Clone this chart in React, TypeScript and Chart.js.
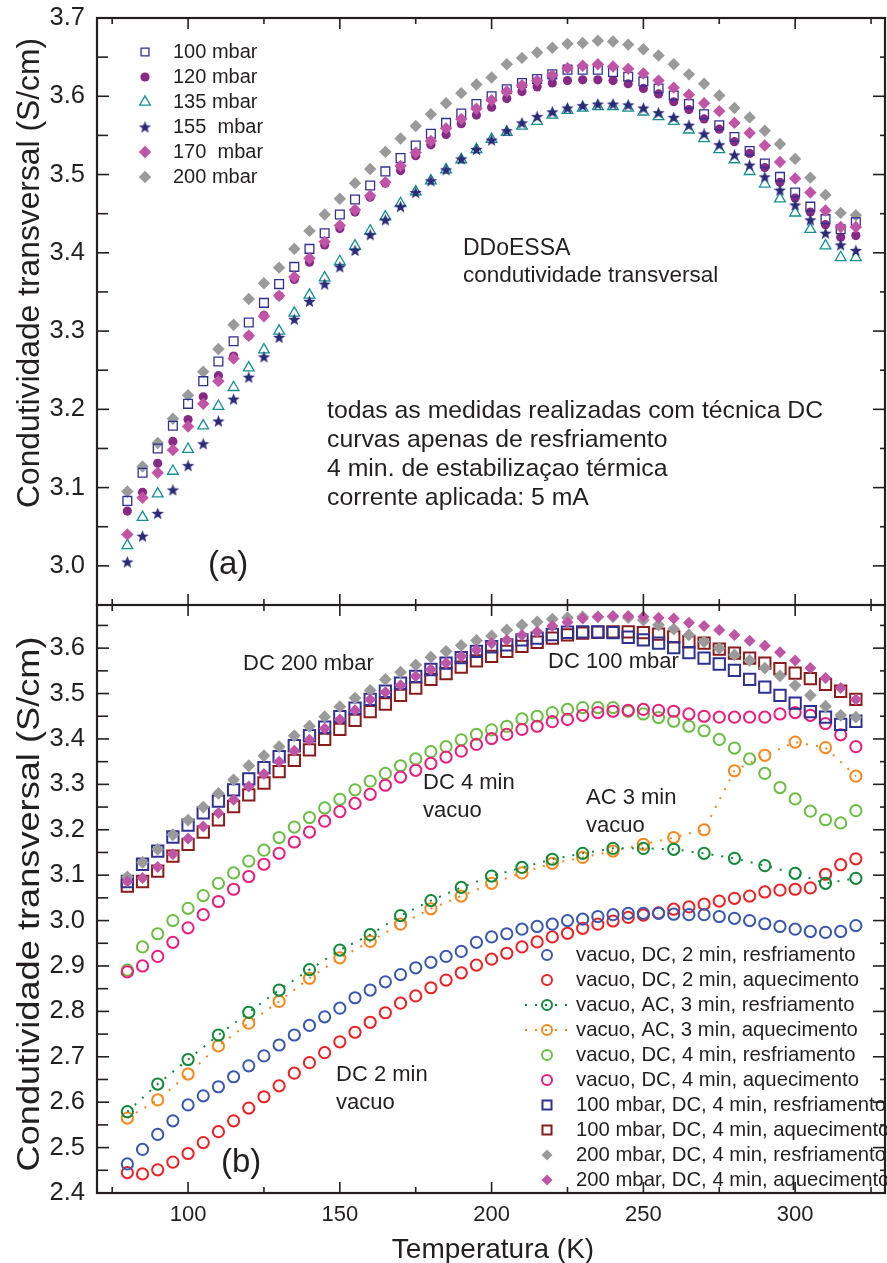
import React, { useEffect, useRef } from 'react';
import { Chart, registerables } from 'chart.js';
import { drawPoint } from 'chart.js/helpers';

Chart.register(...registerables);

// ---------------- data ----------------
const TEMP_5K = [80, 85, 90, 95, 100, 105, 110, 115, 120, 125, 130, 135, 140, 145, 150, 155, 160, 165, 170, 175,
  180, 185, 190, 195, 200, 205, 210, 215, 220, 225, 230, 235, 240, 245, 250, 255, 260, 265, 270, 275,
  280, 285, 290, 295, 300, 305, 310, 315, 320];
const TEMP_10K = [80, 90, 100, 110, 120, 130, 140, 150, 160, 170, 180, 190, 200, 210, 220, 230, 240, 250, 260, 270,
  280, 290, 300, 310, 320];

// panel (a)
const A_100 = [3.083, 3.119, 3.150, 3.179, 3.207, 3.236, 3.261, 3.287, 3.311, 3.336, 3.360, 3.382, 3.405, 3.425, 3.449, 3.468, 3.486, 3.504, 3.521, 3.537,
  3.552, 3.566, 3.578, 3.590, 3.600, 3.609, 3.617, 3.622, 3.628, 3.634, 3.634, 3.634, 3.631, 3.625, 3.619, 3.610, 3.601, 3.590, 3.577, 3.563,
  3.548, 3.530, 3.514, 3.497, 3.477, 3.459, 3.443, 3.430, 3.439];
const A_120 = [3.070, 3.094, 3.131, 3.159, 3.187, 3.216, 3.243, 3.268, 3.294, 3.320, 3.345, 3.366, 3.388, 3.410, 3.431, 3.452, 3.471, 3.489, 3.505, 3.524,
  3.538, 3.551, 3.565, 3.576, 3.586, 3.597, 3.606, 3.612, 3.617, 3.620, 3.621, 3.621, 3.620, 3.616, 3.610, 3.603, 3.593, 3.583, 3.571, 3.558,
  3.542, 3.527, 3.509, 3.490, 3.470, 3.452, 3.436, 3.420, 3.422];
const A_135 = [3.026, 3.062, 3.092, 3.121, 3.149, 3.179, 3.204, 3.228, 3.253, 3.276, 3.300, 3.323, 3.346, 3.368, 3.389, 3.409, 3.428, 3.446, 3.463, 3.478,
  3.492, 3.506, 3.519, 3.532, 3.545, 3.554, 3.562, 3.568, 3.576, 3.582, 3.585, 3.587, 3.587, 3.585, 3.580, 3.574, 3.568, 3.557, 3.546, 3.532,
  3.519, 3.504, 3.488, 3.469, 3.451, 3.430, 3.409, 3.394, 3.394];
const A_155 = [3.005, 3.038, 3.067, 3.097, 3.128, 3.156, 3.185, 3.213, 3.241, 3.267, 3.292, 3.315, 3.338, 3.360, 3.382, 3.403, 3.423, 3.442, 3.459, 3.477,
  3.492, 3.506, 3.520, 3.532, 3.544, 3.556, 3.566, 3.574, 3.580, 3.585, 3.588, 3.590, 3.590, 3.589, 3.585, 3.579, 3.573, 3.563, 3.552, 3.538,
  3.525, 3.512, 3.497, 3.480, 3.461, 3.442, 3.425, 3.410, 3.403];
const A_170 = [3.040, 3.087, 3.119, 3.148, 3.178, 3.207, 3.236, 3.265, 3.294, 3.319, 3.345, 3.369, 3.393, 3.414, 3.435, 3.455, 3.473, 3.490, 3.511, 3.528,
  3.543, 3.559, 3.571, 3.584, 3.595, 3.606, 3.614, 3.620, 3.627, 3.636, 3.639, 3.641, 3.638, 3.635, 3.629, 3.620, 3.611, 3.602, 3.591, 3.581,
  3.566, 3.553, 3.537, 3.516, 3.495, 3.477, 3.454, 3.433, 3.433];
const A_200 = [3.095, 3.127, 3.157, 3.188, 3.218, 3.248, 3.277, 3.308, 3.341, 3.361, 3.381, 3.405, 3.428, 3.449, 3.469, 3.489, 3.507, 3.529, 3.546, 3.562,
  3.577, 3.591, 3.604, 3.615, 3.624, 3.641, 3.649, 3.656, 3.662, 3.667, 3.668, 3.671, 3.670, 3.666, 3.660, 3.652, 3.641, 3.628, 3.616, 3.601,
  3.585, 3.573, 3.556, 3.539, 3.520, 3.496, 3.474, 3.451, 3.448];

// panel (b)
const B_DC2_COOL = [2.464, 2.496, 2.529, 2.559, 2.594, 2.614, 2.634, 2.656, 2.680, 2.702, 2.726, 2.748, 2.769, 2.788, 2.807, 2.830, 2.847, 2.865, 2.881, 2.896,
  2.908, 2.921, 2.932, 2.952, 2.964, 2.971, 2.981, 2.987, 2.992, 3.000, 3.003, 3.009, 3.013, 3.016, 3.016, 3.016, 3.014, 3.013, 3.013, 3.009,
  3.005, 3.000, 2.993, 2.987, 2.981, 2.976, 2.974, 2.976, 2.989];
const B_DC2_HEAT = [2.445, 2.442, 2.451, 2.468, 2.487, 2.511, 2.535, 2.559, 2.587, 2.612, 2.636, 2.664, 2.687, 2.709, 2.733, 2.754, 2.776, 2.797, 2.818, 2.834,
  2.852, 2.869, 2.885, 2.902, 2.915, 2.928, 2.942, 2.953, 2.964, 2.972, 2.983, 2.992, 2.999, 3.007, 3.012, 3.017, 3.025, 3.030, 3.036, 3.043,
  3.049, 3.054, 3.063, 3.067, 3.069, 3.072, 3.102, 3.123, 3.136];
const B_AC3_COOL = [2.579, 2.640, 2.694, 2.748, 2.798, 2.847, 2.892, 2.935, 2.969, 3.011, 3.044, 3.073, 3.098, 3.117, 3.135, 3.148, 3.159, 3.159, 3.157, 3.148,
  3.137, 3.121, 3.104, 3.082, 3.093];
const B_AC3_HEAT = [2.565, 2.605, 2.662, 2.724, 2.774, 2.822, 2.873, 2.918, 2.954, 2.992, 3.026, 3.054, 3.082, 3.105, 3.126, 3.139, 3.153, 3.168, 3.183, 3.200,
  3.330, 3.364, 3.393, 3.381, 3.318];
const B_DC4_COOL = [2.891, 2.942, 2.971, 3.000, 3.027, 3.055, 3.082, 3.105, 3.131, 3.155, 3.183, 3.206, 3.227, 3.248, 3.267, 3.288, 3.307, 3.324, 3.341, 3.356,
  3.372, 3.383, 3.398, 3.410, 3.420, 3.428, 3.444, 3.450, 3.458, 3.465, 3.469, 3.469, 3.469, 3.461, 3.455, 3.447, 3.439, 3.428, 3.418, 3.399,
  3.380, 3.356, 3.324, 3.293, 3.268, 3.241, 3.222, 3.215, 3.242];
const B_DC4_HEAT = [2.887, 2.900, 2.921, 2.952, 2.984, 3.013, 3.042, 3.069, 3.097, 3.124, 3.148, 3.173, 3.195, 3.219, 3.240, 3.258, 3.278, 3.298, 3.316, 3.331,
  3.346, 3.360, 3.373, 3.388, 3.401, 3.410, 3.421, 3.428, 3.438, 3.443, 3.452, 3.458, 3.461, 3.463, 3.465, 3.463, 3.461, 3.455, 3.450, 3.448,
  3.448, 3.448, 3.448, 3.455, 3.458, 3.452, 3.434, 3.409, 3.383];
const B_100_COOL = [3.086, 3.124, 3.153, 3.184, 3.210, 3.237, 3.263, 3.288, 3.312, 3.337, 3.361, 3.385, 3.407, 3.426, 3.449, 3.468, 3.487, 3.505, 3.523, 3.538,
  3.553, 3.567, 3.579, 3.593, 3.603, 3.607, 3.618, 3.622, 3.630, 3.635, 3.636, 3.636, 3.634, 3.624, 3.618, 3.611, 3.601, 3.590, 3.578, 3.565,
  3.551, 3.531, 3.514, 3.496, 3.479, 3.460, 3.448, 3.432, 3.439];
const B_100_HEAT = [3.076, 3.086, 3.109, 3.142, 3.168, 3.195, 3.222, 3.251, 3.277, 3.303, 3.328, 3.353, 3.376, 3.399, 3.421, 3.441, 3.460, 3.477, 3.496, 3.512,
  3.531, 3.544, 3.558, 3.572, 3.582, 3.593, 3.604, 3.613, 3.622, 3.629, 3.633, 3.635, 3.636, 3.636, 3.634, 3.631, 3.625, 3.614, 3.611, 3.598,
  3.589, 3.578, 3.567, 3.555, 3.545, 3.533, 3.520, 3.505, 3.487];
const B_200_COOL = [3.096, 3.128, 3.157, 3.189, 3.221, 3.250, 3.280, 3.310, 3.341, 3.363, 3.383, 3.407, 3.428, 3.449, 3.471, 3.490, 3.507, 3.531, 3.547, 3.563,
  3.580, 3.593, 3.606, 3.617, 3.627, 3.640, 3.651, 3.658, 3.664, 3.667, 3.669, 3.669, 3.669, 3.667, 3.662, 3.651, 3.642, 3.629, 3.614, 3.600,
  3.585, 3.573, 3.556, 3.539, 3.518, 3.496, 3.472, 3.452, 3.448];
const B_200_HEAT = [3.086, 3.094, 3.118, 3.146, 3.181, 3.207, 3.237, 3.266, 3.295, 3.323, 3.350, 3.374, 3.398, 3.423, 3.443, 3.463, 3.487, 3.503, 3.518, 3.538,
  3.553, 3.567, 3.582, 3.596, 3.611, 3.618, 3.629, 3.636, 3.649, 3.657, 3.665, 3.669, 3.671, 3.671, 3.669, 3.667, 3.665, 3.656, 3.649, 3.640,
  3.629, 3.616, 3.605, 3.591, 3.573, 3.556, 3.534, 3.512, 3.487];

// ticks
const X_MAJOR = [100, 150, 200, 250, 300];
const X_MINOR = [75, 125, 175, 225, 275, 325];
const A_Y_MAJOR = [3.0, 3.1, 3.2, 3.3, 3.4, 3.5, 3.6, 3.7];
const A_Y_MINOR = [3.05, 3.15, 3.25, 3.35, 3.45, 3.55, 3.65];
const B_Y_MAJOR = [2.4, 2.5, 2.6, 2.7, 2.8, 2.9, 3.0, 3.1, 3.2, 3.3, 3.4, 3.5, 3.6];
const B_Y_MINOR = [2.45, 2.55, 2.65, 2.75, 2.85, 2.95, 3.05, 3.15, 3.25, 3.35, 3.45, 3.55, 3.65];

// ---------------- styling ----------------
const FONT = '"Liberation Sans", Arial, Helvetica, sans-serif';
const INK = '#231f20';
const CLEAR = 'rgba(0,0,0,0)';

function makeStar(color: string, R: number) {
  const c = document.createElement('canvas');
  const s = Math.ceil(R * 2 + 2);
  c.width = s; c.height = s;
  const g = c.getContext('2d')!;
  g.fillStyle = color;
  g.beginPath();
  for (let i = 0; i < 10; i++) {
    const r = i % 2 === 0 ? R : R * 0.42;
    const a = -Math.PI / 2 + (i * Math.PI) / 5;
    const px = s / 2 + r * Math.cos(a);
    const py = s / 2 + r * Math.sin(a) + 0.5;
    if (i === 0) g.moveTo(px, py); else g.lineTo(px, py);
  }
  g.closePath();
  g.fill();
  return c;
}

type Mk = { style: any; r: number; lw: number; color: string; fill: boolean };

function ds(label: string, xs: number[], ys: number[], mk: Mk, order: number, extra: any = {}) {
  return {
    label,
    data: xs.map((x, i) => ({ x, y: ys[i] })),
    showLine: false,
    order,
    clip: false,
    pointStyle: mk.style,
    pointRadius: mk.r,
    pointHoverRadius: mk.r,
    pointBorderWidth: mk.lw,
    pointBorderColor: mk.color,
    pointBackgroundColor: mk.fill ? mk.color : CLEAR,
    borderColor: mk.color,
    backgroundColor: mk.fill ? mk.color : CLEAR,
    ...extra,
  };
}

type Txt = { t: string; x: number; y: number; size: number };
type LegendItem = { label: string; mk: Mk; dotted?: boolean };
type Decor = {
  top: number;
  yTickSize: number;
  xTickSize: number;
  yMajor: number[];
  yMinor: number[];
  xLabels?: number[];
  xTitle?: { text: string; cx: number; cy: number; size: number };
  yTitle: { text: string; cx: number; cy: number; size: number; length: number };
  texts: Txt[];
  legend: { x: number; tx: number; y0: number; dy: number; size: number; items: LegendItem[] };
};

function decorPlugin(d: Decor) {
  return {
    id: 'decor',
    afterDatasetsDraw(chart: any) {
      const ctx: CanvasRenderingContext2D = chart.ctx;
      const a = chart.chartArea;
      const xs = chart.scales.x;
      const ys = chart.scales.y;
      const T = d.top;
      ctx.save();
      ctx.strokeStyle = INK;
      ctx.lineCap = 'butt';
      const seg = (x1: number, y1: number, x2: number, y2: number) => {
        ctx.beginPath(); ctx.moveTo(x1, y1); ctx.lineTo(x2, y2); ctx.stroke();
      };
      ctx.lineWidth = 1.6;
      for (const v of X_MAJOR) {
        const p = xs.getPixelForValue(v);
        seg(p, a.bottom, p, a.bottom - 11); seg(p, a.top, p, a.top + 11);
      }
      for (const v of X_MINOR) {
        const p = xs.getPixelForValue(v);
        seg(p, a.bottom, p, a.bottom - 6); seg(p, a.top, p, a.top + 6);
      }
      for (const v of d.yMajor) {
        const p = ys.getPixelForValue(v);
        seg(a.left, p, a.left + 12, p); seg(a.right, p, a.right - 12, p);
      }
      for (const v of d.yMinor) {
        const p = ys.getPixelForValue(v);
        seg(a.left, p, a.left + 11, p); seg(a.right, p, a.right - 5, p);
      }
      ctx.lineWidth = 2.2;
      ctx.strokeRect(a.left, a.top, a.right - a.left, a.bottom - a.top);

      ctx.fillStyle = INK;
      ctx.font = `${d.yTickSize}px ${FONT}`;
      ctx.textAlign = 'right';
      ctx.textBaseline = 'middle';
      for (const v of d.yMajor) ctx.fillText(v.toFixed(1), a.left - 12, ys.getPixelForValue(v));
      if (d.xLabels) {
        ctx.font = `${d.xTickSize}px ${FONT}`;
        ctx.textAlign = 'center';
        for (const v of d.xLabels) ctx.fillText(String(v), xs.getPixelForValue(v), 1215 - T);
      }
      if (d.xTitle) {
        ctx.font = `${d.xTitle.size}px ${FONT}`;
        ctx.textAlign = 'center';
        ctx.fillText(d.xTitle.text, d.xTitle.cx, d.xTitle.cy - T);
      }
      // y title
      {
        const yt = d.yTitle;
        ctx.save();
        ctx.translate(yt.cx, yt.cy - T);
        ctx.rotate(-Math.PI / 2);
        ctx.font = `${yt.size}px ${FONT}`;
        const w = ctx.measureText(yt.text).width;
        ctx.scale(yt.length / w, 1);
        ctx.textAlign = 'center';
        ctx.textBaseline = 'middle';
        ctx.fillText(yt.text, 0, 0);
        ctx.restore();
      }
      // annotations
      ctx.textAlign = 'left';
      ctx.textBaseline = 'middle';
      for (const t of d.texts) {
        ctx.font = `${t.size}px ${FONT}`;
        ctx.fillText(t.t, t.x, t.y - T);
      }
      // legend
      const L = d.legend;
      L.items.forEach((it, i) => {
        const y = L.y0 + i * L.dy - T;
        if (it.dotted) {
          ctx.save();
          ctx.strokeStyle = it.mk.color;
          ctx.lineWidth = 2;
          ctx.setLineDash([2, 8]);
          seg(L.x - 22, y, L.x + 22, y);
          ctx.restore();
        }
        ctx.save();
        ctx.strokeStyle = it.mk.color;
        ctx.fillStyle = it.mk.fill ? it.mk.color : CLEAR;
        ctx.lineWidth = it.mk.lw;
        drawPoint(ctx, { pointStyle: it.mk.style, radius: it.mk.r, borderWidth: it.mk.lw, rotation: 0 } as any, L.x, y);
        ctx.restore();
        ctx.fillStyle = INK;
        ctx.font = `${L.size}px ${FONT}`;
        ctx.fillText(it.label, L.tx, y);
      });
      ctx.restore();
    },
  };
}

function baseOptions(padding: any, ymin: number, ymax: number) {
  return {
    responsive: false,
    animation: false as const,
    events: [] as any[],
    layout: { padding, autoPadding: false },
    scales: {
      x: { type: 'linear' as const, min: 70, max: 329.6, display: false },
      y: { type: 'linear' as const, min: ymin, max: ymax, display: false },
    },
    plugins: { legend: { display: false }, tooltip: { enabled: false } },
  };
}

export default function App() {
  const refA = useRef<HTMLCanvasElement>(null);
  const refB = useRef<HTMLCanvasElement>(null);

  useEffect(() => {
    // ---- panel (a) markers
    const mA100: Mk = { style: 'rect', r: 6.2, lw: 1.3, color: '#2e3192', fill: false };
    const mA120: Mk = { style: 'circle', r: 4.6, lw: 0, color: '#862a86', fill: true };
    const mA135: Mk = { style: 'triangle', r: 6.2, lw: 1.3, color: '#14918f', fill: false };
    const mA155: Mk = { style: makeStar('#2b2a78', 6.5), r: 6, lw: 0, color: '#2b2a78', fill: true };
    const mA170: Mk = { style: 'rectRot', r: 6.2, lw: 0, color: '#c154a6', fill: true };
    const mA200: Mk = { style: 'rectRot', r: 6.2, lw: 0, color: '#9a9a9a', fill: true };

    const cfgA: any = {
      type: 'scatter',
      data: {
        datasets: [
          ds('100 mbar', TEMP_5K, A_100, mA100, 2),
          ds('120 mbar', TEMP_5K, A_120, mA120, 4),
          ds('135 mbar', TEMP_5K, A_135, mA135, 5),
          ds('155  mbar', TEMP_5K, A_155, mA155, 1),
          ds('170  mbar', TEMP_5K, A_170, mA170, 0),
          ds('200 mbar', TEMP_5K, A_200, mA200, 3),
        ],
      },
      options: baseOptions({ left: 97, right: 2, top: 18, bottom: 1 }, 2.95, 3.7),
      plugins: [decorPlugin({
        top: 0,
        yTickSize: 25.5,
        xTickSize: 22,
        yMajor: A_Y_MAJOR,
        yMinor: A_Y_MINOR,
        yTitle: { text: 'Condutividade transversal (S/cm)', cx: 30, cy: 273, size: 31, length: 470 },
        texts: [
          { t: 'DDoESSA', x: 463, y: 249, size: 23 },
          { t: 'condutividade transversal', x: 463, y: 276, size: 22.5 },
          { t: 'todas as medidas realizadas com técnica DC', x: 327, y: 411, size: 24.8 },
          { t: 'curvas apenas de resfriamento', x: 327, y: 440, size: 24.8 },
          { t: '4 min. de estabilizaçao térmica', x: 327, y: 469, size: 24.8 },
          { t: 'corrente aplicada: 5 mA', x: 327, y: 498, size: 24.8 },
          { t: '(a)', x: 208, y: 565, size: 33 },
        ],
        legend: {
          x: 145, tx: 173, y0: 52, dy: 25, size: 20,
          items: [
            { label: '100 mbar', mk: { ...mA100, r: 5.6 } },
            { label: '120 mbar', mk: mA120 },
            { label: '135 mbar', mk: mA135 },
            { label: '155  mbar', mk: mA155 },
            { label: '170  mbar', mk: mA170 },
            { label: '200 mbar', mk: mA200 },
          ],
        },
      })],
    };

    // ---- panel (b) markers
    const circ = (color: string): Mk => ({ style: 'circle', r: 5.6, lw: 2, color, fill: false });
    const mBlue = circ('#3a57b0');
    const mRed = circ('#ed2024');
    const mDkGreen = circ('#11883a');
    const mOrange = circ('#f7871f');
    const mLtGreen = circ('#6cbd45');
    const mMagenta = circ('#ec1c7a');
    const mNavySq: Mk = { style: 'rect', r: 8, lw: 2, color: '#2e3192', fill: false };
    const mDkRedSq: Mk = { style: 'rect', r: 8, lw: 2, color: '#8b1a1a', fill: false };
    const mGrayDia: Mk = { style: 'rectRot', r: 6.4, lw: 0, color: '#9a9a9a', fill: true };
    const mPinkDia: Mk = { style: 'rectRot', r: 6, lw: 0, color: '#bf55a5', fill: true };
    const dotted = (color: string) => ({ showLine: true, borderColor: color, borderWidth: 2, borderDash: [2, 8], tension: 0 });

    const cfgB: any = {
      type: 'scatter',
      data: {
        datasets: [
          ds('vacuo, DC, 2 min, resfriamento', TEMP_5K, B_DC2_COOL, mBlue, 8),
          ds('vacuo, DC, 2 min, aquecimento', TEMP_5K, B_DC2_HEAT, mRed, 9),
          ds('vacuo, AC, 3 min, resfriamento', TEMP_10K, B_AC3_COOL, mDkGreen, 6, dotted('#11883a')),
          ds('vacuo, AC, 3 min, aquecimento', TEMP_10K, B_AC3_HEAT, mOrange, 7, dotted('#f7871f')),
          ds('vacuo, DC, 4 min, resfriamento', TEMP_5K, B_DC4_COOL, mLtGreen, 5),
          ds('vacuo, DC, 4 min, aquecimento', TEMP_5K, B_DC4_HEAT, mMagenta, 4),
          ds('100 mbar, DC, 4 min, resfriamento', TEMP_5K, B_100_COOL, mNavySq, 2),
          ds('100 mbar, DC, 4 min, aquecimento', TEMP_5K, B_100_HEAT, mDkRedSq, 3),
          ds('200 mbar, DC, 4 min, resfriamento', TEMP_5K, B_200_COOL, mGrayDia, 1),
          ds('200 mbar, DC, 4 min, aquecimento', TEMP_5K, B_200_HEAT, mPinkDia, 0),
        ],
      },
      options: baseOptions({ left: 97, right: 2, top: 1, bottom: 70 }, 2.4, 3.695),
      plugins: [decorPlugin({
        top: 604,
        yTickSize: 25.5,
        xTickSize: 22,
        yMajor: B_Y_MAJOR,
        yMinor: B_Y_MINOR,
        xLabels: X_MAJOR,
        xTitle: { text: 'Temperatura (K)', cx: 493, cy: 1250, size: 28 },
        yTitle: { text: 'Condutividade transversal (S/cm)', cx: 30, cy: 904, size: 31, length: 535 },
        texts: [
          { t: 'DC 200 mbar', x: 243, y: 664, size: 22 },
          { t: 'DC 100 mbar', x: 548, y: 662, size: 22 },
          { t: 'DC 4 min', x: 423, y: 783, size: 22 },
          { t: 'vacuo', x: 423, y: 811, size: 22 },
          { t: 'AC 3 min', x: 586, y: 798, size: 22 },
          { t: 'vacuo', x: 586, y: 826, size: 22 },
          { t: 'DC 2 min', x: 336, y: 1075, size: 22 },
          { t: 'vacuo', x: 336, y: 1103, size: 22 },
          { t: '(b)', x: 221, y: 1163, size: 33 },
        ],
        legend: {
          x: 547, tx: 576, y0: 955, dy: 25, size: 20.3,
          items: [
            { label: 'vacuo, DC, 2 min, resfriamento', mk: { ...mBlue, r: 5 } },
            { label: 'vacuo, DC, 2 min, aquecimento', mk: { ...mRed, r: 5 } },
            { label: 'vacuo, AC, 3 min, resfriamento', mk: { ...mDkGreen, r: 5 }, dotted: true },
            { label: 'vacuo, AC, 3 min, aquecimento', mk: { ...mOrange, r: 5 }, dotted: true },
            { label: 'vacuo, DC, 4 min, resfriamento', mk: { ...mLtGreen, r: 5 } },
            { label: 'vacuo, DC, 4 min, aquecimento', mk: { ...mMagenta, r: 5 } },
            { label: '100 mbar, DC, 4 min, resfriamento', mk: { ...mNavySq, r: 6.4 } },
            { label: '100 mbar, DC, 4 min, aquecimento', mk: { ...mDkRedSq, r: 6.4 } },
            { label: '200 mbar, DC, 4 min, resfriamento', mk: { ...mGrayDia, r: 5.5 } },
            { label: '200 mbar, DC, 4 min, aquecimento', mk: { ...mPinkDia, r: 5.5 } },
          ],
        },
      })],
    };

    const ca = new Chart(refA.current!, cfgA);
    const cb = new Chart(refB.current!, cfgB);
    return () => { ca.destroy(); cb.destroy(); };
  }, []);

  return (
    <div style={{ position: 'absolute', left: 0, top: 0, width: 887, height: 1263, background: '#fff', overflow: 'hidden' }}>
      <canvas ref={refA} width={887} height={606} style={{ position: 'absolute', left: 0, top: 0, width: 887, height: 606 }} />
      <canvas ref={refB} width={887} height={659} style={{ position: 'absolute', left: 0, top: 604, width: 887, height: 659 }} />
    </div>
  );
}
